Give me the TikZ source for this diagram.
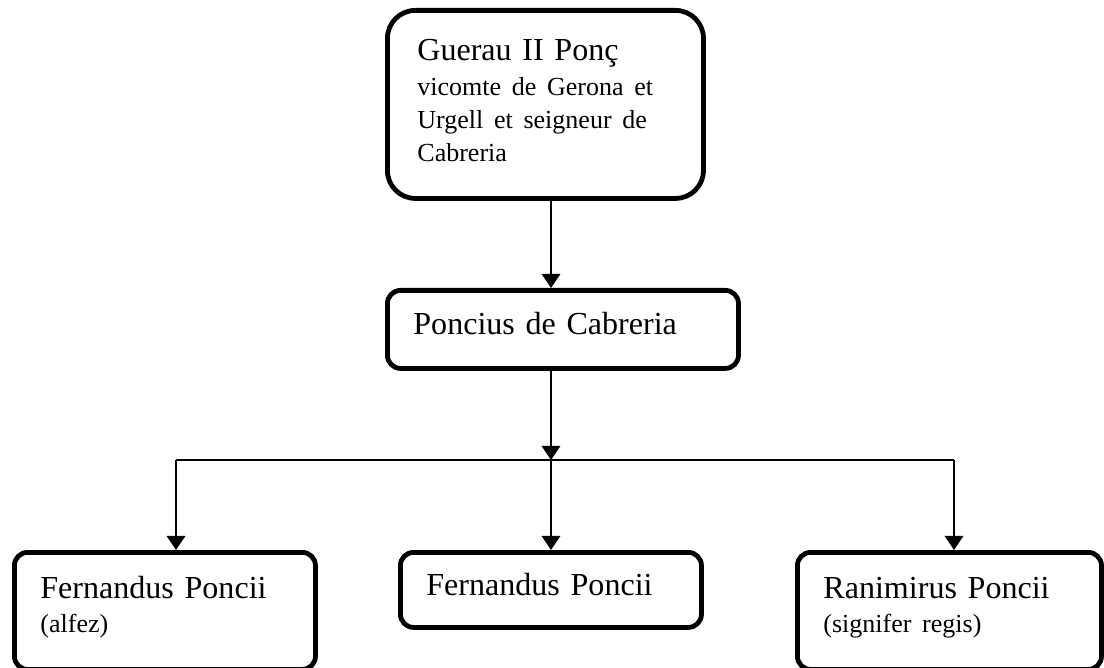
\documentclass[tikz,border=0pt]{standalone}
\usepackage{fontspec}
\setmainfont{Liberation Serif}
\usetikzlibrary{arrows.meta, calc}
\tikzset{
    famnode/.style={rectangle, draw=black, line width=3.4pt, rounded corners=0.33cm, anchor=north west, align=left, inner xsep=0.65cm, inner ysep=0pt, font=\fontsize{22.8}{24.2}\selectfont},
    arr/.style={-{Triangle[length=10pt, width=13pt]}, line width=1.8pt},
    barline/.style={line width=1pt}
}
\newcommand{\subtxt}[1]{{\fontsize{18.5pt}{24.2pt}\selectfont #1}}

\begin{document}
\begin{tikzpicture}[x=0.025cm, y=-0.025cm]
    \useasboundingbox (0,0) rectangle (1104,668);
    \clip (0,0) rectangle (1104,668);
    % boxes
    \node[famnode, rounded corners=0.7cm, inner xsep=0.75cm, text width=6.4cm, text height=1.25cm, text depth=3.45cm,
      font=\fontsize{22.8pt}{23.5pt}\selectfont] (guerau) at (385,8)
      {Guerau II Ponç\\[1.5pt]\subtxt{vicomte de Gerona et}\\
      \subtxt{Urgell et seigneur de}\\\subtxt{Cabreria}};
    \node[famnode, text width=7.475cm, text height=1.1cm, text depth=0.85cm] (poncius) at (385,288)
      {Poncius de Cabreria};
    \node[famnode, text width=6.225cm, text height=1.15cm, text depth=1.775cm] (fern1) at (12,550)
      {Fernandus Poncii\\\subtxt{(alfez)}};
    \node[famnode, text width=6.225cm, text height=1.075cm, text depth=0.8cm] (fern2) at (398,550)
      {Fernandus Poncii};
    \node[famnode, text width=6.3cm, text height=1.15cm, text depth=1.775cm] (ranim) at (795,550)
      {Ranimirus Poncii\\\subtxt{(signifer regis)}};
    % connectors
    \coordinate (trunk) at (551,460);
    \coordinate (barL) at (176,460);
    \coordinate (barR) at (954,460);
    \draw[arr] (guerau.south -| trunk) -- (poncius.north -| trunk);
    \draw[arr] (poncius.south -| trunk) -- (trunk);
    \draw[barline] (barL) -- (barR);
    \draw[arr] (barL) -- (barL |- fern1.north);
    \draw[arr] (trunk) -- (fern2.north -| trunk);
    \draw[arr] (barR) -- (barR |- ranim.north);
\end{tikzpicture}
\end{document}
